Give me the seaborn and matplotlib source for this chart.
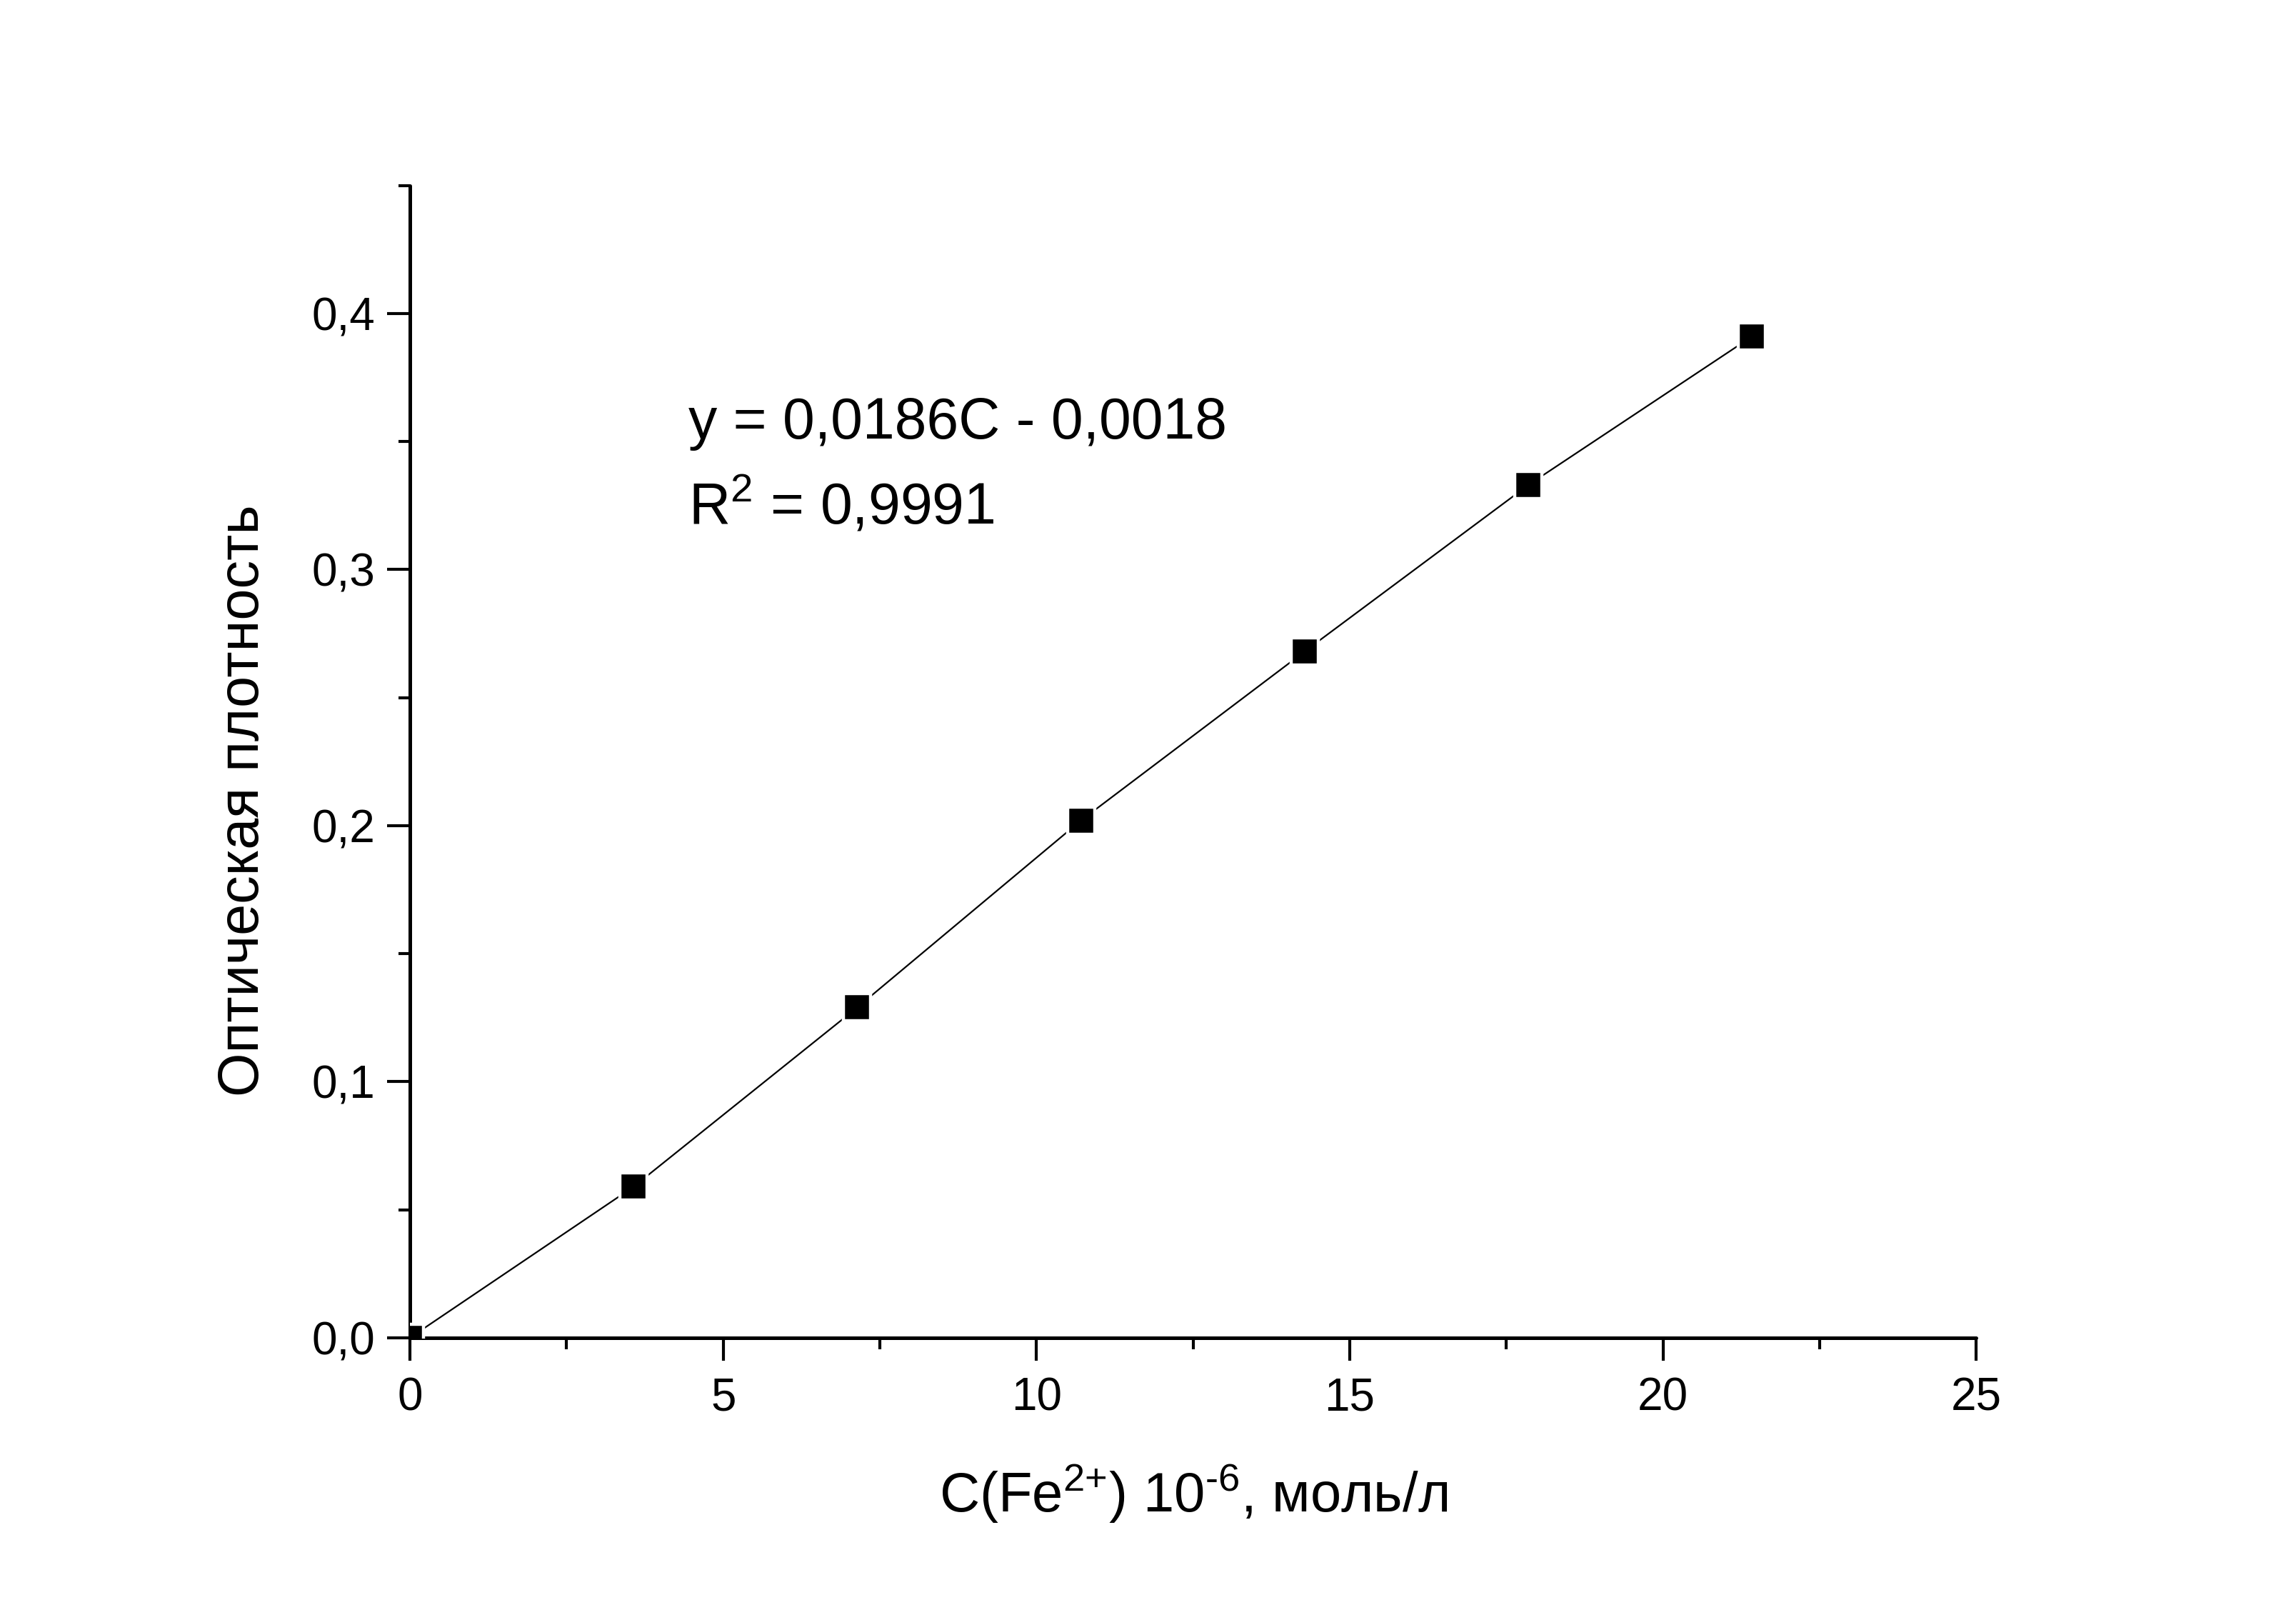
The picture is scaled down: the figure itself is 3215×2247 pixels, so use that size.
import numpy as np
import pandas as pd
import matplotlib
matplotlib.use('Agg')
import matplotlib.pyplot as plt
from matplotlib.ticker import MultipleLocator, FuncFormatter
import seaborn as sns

# calibration points
conc = [0.0, 3.57, 7.14, 10.71, 14.28, 17.85, 21.42]
absorb = [0.0, 0.059, 0.129, 0.202, 0.268, 0.333, 0.391]

eq_text = 'y = 0,0186C - 0,0018'
r2_text = 'R$^2$ = 0,9991'
x_label = r'C(Fe$^{\text{2+}}$) 10$^{\text{-6}}$, моль/л'
y_label = 'Оптическая плотность'

data = pd.DataFrame({'C': conc, 'A': absorb})

sns.set_style('ticks')
plt.rcParams['font.family'] = ['Liberation Sans', 'DejaVu Sans']
plt.rcParams['mathtext.fontset'] = 'custom'
plt.rcParams['mathtext.rm'] = 'Liberation Sans'
plt.rcParams['mathtext.it'] = 'Liberation Sans'
plt.rcParams['mathtext.default'] = 'regular'
plt.rcParams['text.color'] = 'black'
plt.rcParams['axes.labelcolor'] = 'black'
plt.rcParams['xtick.color'] = 'black'
plt.rcParams['ytick.color'] = 'black'
plt.rcParams['axes.edgecolor'] = 'black'

fig = plt.figure(figsize=(16.08, 11.235), dpi=200)
ax = fig.add_axes([0.1785, 0.1665, 0.682, 0.718])

ax.plot(data['C'], data['A'], color='black', lw=0.8, zorder=2)
sns.lineplot(data=data, x='C', y='A', ax=ax, marker='s', markersize=14,
             markerfacecolor='black', markeredgecolor='white', markeredgewidth=1.6,
             linestyle='none', color='black', zorder=3)

ax.set_xlim(0, 25)
ax.set_ylim(0, 0.45)
ax.xaxis.set_major_locator(MultipleLocator(5))
ax.xaxis.set_minor_locator(MultipleLocator(2.5))
ax.yaxis.set_major_locator(MultipleLocator(0.1))
ax.yaxis.set_minor_locator(MultipleLocator(0.05))
ax.yaxis.set_major_formatter(FuncFormatter(lambda v, p: f'{v:.1f}'.replace('.', ',')))
ax.xaxis.set_major_formatter(FuncFormatter(lambda v, p: f'{v:.0f}'))

sns.despine(ax=ax)
for s in ['left', 'bottom']:
    ax.spines[s].set_linewidth(1.8)
    ax.spines[s].set_capstyle('round')
ax.tick_params(which='major', length=11.5, width=1.5, labelsize=23, direction='out')
ax.tick_params(which='minor', length=5.8, width=1.5, direction='out')
ax.tick_params(axis='x', which='major', pad=8)
ax.tick_params(axis='y', which='major', pad=6)

ax.set_xlabel(x_label, fontsize=28, labelpad=22)
ax.set_ylabel(y_label, fontsize=28.5)
ax.yaxis.set_label_coords(-0.0889, 0.466)

ax.text(4.45, 0.351, eq_text, fontsize=29)
ax.text(4.45, 0.318, r2_text, fontsize=29)

fig.savefig('out.png', dpi=200)
